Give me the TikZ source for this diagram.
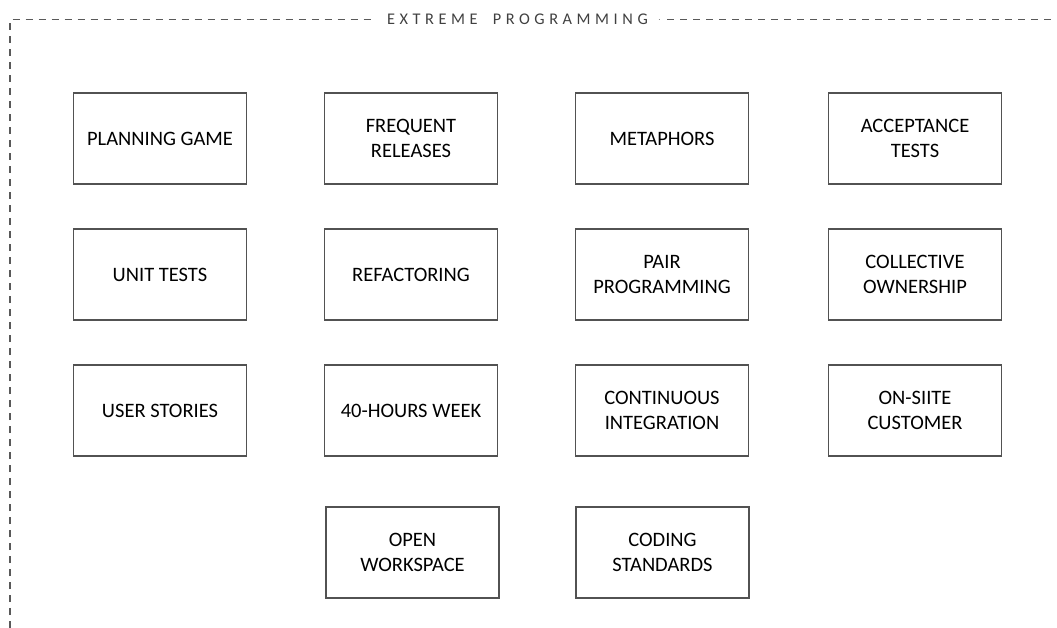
\documentclass[tikz,border=0pt]{standalone}
\usepackage{fontspec}
\setmainfont{Carlito}
\newfontfamily\titlefont[LetterSpace=28]{Carlito}
\begin{document}
\begin{tikzpicture}[x=1pt,y=-1pt,
  practice/.style={draw=black!68, line width=1.7pt, minimum width=173pt, minimum height=91pt,
    inner sep=0pt, align=center, font=\fontsize{20.5}{25}\selectfont, text=black},
  frameline/.style={draw=black!65, line width=1.6pt, dash pattern=on 7pt off 6pt}]
\useasboundingbox (0,0) rectangle (1057,628);
% open dashed frame
\coordinate (tl) at (10,19.5);
\coordinate (bl) at (10,628);
\coordinate (tA) at (372,19.5);
\coordinate (tB) at (667,19.5);
\coordinate (tr) at (1057,19.5);
\draw[frameline] (bl) -- (tl) -- (tA);
\draw[frameline] (tB) -- (tr);
\node[draw=none, inner sep=0pt] (tick) at (660,19.5) {};
\draw[draw=black!45, line width=1pt] (tick.west) ++(-0.8,0) -- ++(1.6,0);
\node[anchor=mid west, inner sep=0pt, text=black!75, font=\titlefont\fontsize{16.3}{18}\selectfont]
  (title) at (387,22) {EXTREME\hspace{7pt} PROGRAMMING};
% practices
\node[practice] (pg) at (160,138.5) {PLANNING GAME};
\node[practice] (fr) at (411,138.5) {FREQUENT\\RELEASES};
\node[practice] (me) at (662,138.5) {METAPHORS};
\node[practice] (at) at (915,138.5) {ACCEPTANCE\\TESTS};
\node[practice] (ut) at (160,274.5) {UNIT TESTS};
\node[practice] (rf) at (411,274.5) {REFACTORING};
\node[practice] (pp) at (662,274.5) {PAIR\\PROGRAMMING};
\node[practice] (co) at (915,274.5) {COLLECTIVE\\OWNERSHIP};
\node[practice] (us) at (160,410.5) {USER STORIES};
\node[practice] (hw) at (411,410.5) {40-HOURS WEEK};
\node[practice] (ci) at (662,410.5) {CONTINUOUS\\INTEGRATION};
\node[practice] (oc) at (915,410.5) {ON-SIITE\\CUSTOMER};
\node[practice] (ow) at (412.5,552.5) {OPEN\\WORKSPACE};
\node[practice] (cs) at (662.5,552.5) {CODING\\STANDARDS};
\end{tikzpicture}
\end{document}
